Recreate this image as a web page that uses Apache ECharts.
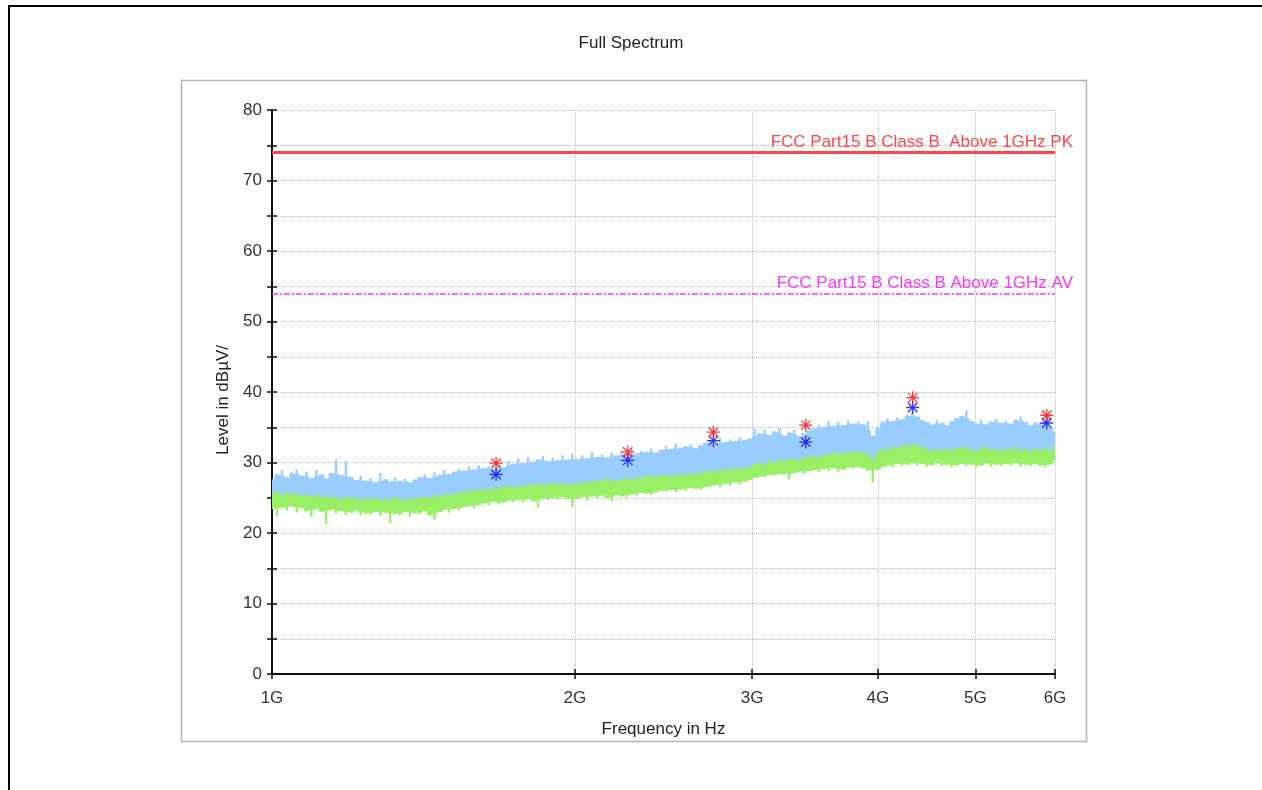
<!DOCTYPE html>
<html>
<head>
<meta charset="utf-8">
<title>Full Spectrum</title>
<script src="https://cdn.jsdelivr.net/npm/echarts@6/dist/echarts.min.js"></script>
<style>
  html, body { margin: 0; padding: 0; background: #fff; }
  #main { width: 1262px; height: 790px; }
</style>
</head>
<body>
<div id="main"></div>
<script>
// sweep 1 GHz .. 6 GHz, read at evenly spaced points of the log display
var sweepStartGHz = 1;
var sweepStopGHz = 6;

// peak trace (light blue): top and bottom of the trace at each reading point, dBuV/m
var peakHi = [
  27.6,28.4,28.9,27.9,28.6,29.0,28.1,28.7,27.8,28.9,
  28.3,27.7,28.5,30.4,28.2,30.2,27.9,27.5,28.1,27.4,
  27.8,27.2,28.5,27.6,27.3,27.9,27.4,27.7,27.2,27.6,
  27.9,28.3,27.8,28.6,28.2,28.9,28.4,28.7,29.1,28.8,
  29.4,29.0,29.6,29.2,29.5,29.1,29.7,29.3,30.2,29.8,
  30.6,29.9,30.8,30.1,30.4,30.9,30.2,30.7,30.3,31.0,
  30.4,31.2,30.5,31.0,30.6,31.5,30.8,31.1,30.7,31.4,
  31.0,31.6,31.2,31.9,31.3,31.7,31.5,32.0,31.4,31.8,
  32.4,31.9,32.7,32.1,32.3,32.6,32.0,32.5,32.8,33.2,
  32.6,33.5,32.9,33.3,33.0,33.6,33.2,33.4,34.8,34.1,
  34.6,33.9,34.4,34.9,33.8,34.3,34.6,33.7,34.2,34.5,
  34.8,35.4,35.0,35.9,35.2,35.7,35.3,36.0,35.5,35.8,
  35.4,35.9,33.8,35.1,35.8,36.2,35.9,36.4,36.1,36.8,
  37.1,36.5,36.0,35.7,35.4,36.0,35.6,35.3,35.9,36.3,
  36.6,37.4,35.9,35.5,36.1,35.4,35.8,36.2,35.6,35.9,
  35.5,36.1,36.5,35.7,35.3,35.8,35.6,35.9,35.0,34.3
];
var peakLo = [
  24.8,25.0,24.7,25.1,24.9,24.6,25.0,24.8,24.5,24.9,
  24.6,24.4,24.7,24.5,24.3,24.6,24.2,24.4,24.1,24.3,
  24.0,24.2,23.9,24.1,23.8,24.0,23.9,24.1,23.8,24.0,
  24.1,24.2,24.0,24.3,24.4,24.2,24.5,24.6,24.4,24.7,
  24.8,24.9,25.1,25.0,25.2,25.4,25.3,25.5,25.6,25.5,
  25.7,25.8,25.6,25.9,26.0,25.8,26.1,26.0,25.9,26.2,
  26.0,26.1,26.3,26.2,26.4,26.3,26.5,26.4,26.6,26.5,
  26.7,26.6,26.8,26.9,26.7,27.0,26.9,27.1,27.0,27.2,
  27.1,27.3,27.2,27.4,27.3,27.5,27.6,27.4,27.7,27.8,
  27.9,28.0,27.8,28.1,28.2,28.3,28.4,28.6,28.8,29.0,
  29.1,29.0,29.3,29.2,29.4,29.5,29.3,29.6,29.7,29.8,
  30.0,29.9,30.1,30.2,30.0,30.3,30.1,30.4,30.2,30.3,
  30.2,30.0,29.5,29.8,30.4,30.6,30.5,30.8,30.7,30.9,
  31.0,30.8,30.9,30.7,30.6,30.5,30.7,30.6,30.4,30.6,
  30.5,30.7,30.6,30.4,30.6,30.5,30.7,30.4,30.6,30.5,
  30.7,30.6,30.4,30.5,30.6,30.3,30.5,30.4,30.6,30.2
];

// average trace (green)
var avgHi = [
  25.6,25.9,25.4,26.0,25.5,25.8,25.3,25.7,25.2,25.6,
  25.1,25.4,25.0,25.5,24.8,25.3,24.9,25.2,24.7,25.1,
  24.8,25.2,24.6,25.0,24.7,25.3,24.8,24.6,25.1,24.9,
  25.0,25.3,24.9,25.5,25.2,25.7,25.4,25.8,25.6,26.0,
  25.9,26.2,26.0,26.4,26.1,26.5,26.3,26.6,26.8,26.5,
  26.9,26.6,27.0,26.7,26.9,27.1,26.8,27.2,26.9,27.1,
  26.8,27.2,27.0,27.4,27.1,27.6,27.3,27.5,27.8,27.4,
  27.7,27.5,27.9,27.6,28.1,27.8,28.0,28.3,27.9,28.2,
  28.4,28.0,28.6,28.2,28.5,28.3,28.7,28.4,28.8,29.0,
  28.6,29.1,28.9,29.3,29.0,29.4,29.2,29.3,29.8,30.1,
  29.7,30.4,30.0,30.6,30.2,30.8,30.5,30.3,30.7,30.9,
  31.0,30.7,31.3,31.1,31.5,31.2,31.6,31.3,31.7,31.4,
  31.6,31.2,30.4,31.7,32.1,31.8,32.4,32.0,32.6,32.3,
  32.5,32.8,32.1,31.9,31.6,32.1,31.8,32.2,31.7,32.0,
  32.3,31.9,32.2,31.5,32.0,32.4,31.8,32.2,31.6,32.1,
  31.9,32.3,31.7,32.0,31.6,32.1,31.8,32.2,31.7,32.4
];
var avgLo = [
  23.4,22.4,23.6,23.2,23.8,22.9,23.5,23.1,22.3,23.4,
  23.0,21.2,23.3,22.8,23.1,22.6,22.9,23.2,22.5,22.8,
  22.6,23.0,22.4,22.9,21.4,22.7,22.5,23.0,22.3,22.8,
  22.7,23.1,22.5,21.9,23.0,23.3,22.9,23.4,23.2,23.7,
  23.8,23.5,24.0,24.2,23.9,24.4,24.1,24.3,24.6,24.4,
  24.7,24.3,24.8,24.5,23.6,24.9,24.6,25.0,24.7,25.1,
  24.8,23.7,24.9,25.1,24.6,25.2,24.9,25.3,25.0,24.5,
  25.4,25.2,25.0,25.5,25.3,25.7,25.6,25.4,25.8,26.0,
  25.9,26.1,25.8,26.2,26.0,26.4,26.3,26.1,26.5,26.6,
  26.8,26.5,27.0,26.7,27.2,26.9,27.3,27.5,27.8,28.0,
  27.9,28.2,28.1,28.4,28.3,27.6,28.5,28.7,28.4,28.8,
  28.9,28.6,29.1,28.8,29.2,28.7,29.0,29.3,29.1,29.4,
  29.2,28.9,27.2,29.0,29.4,29.6,29.3,29.8,29.5,29.7,
  29.9,29.6,29.8,29.4,29.6,29.9,29.5,29.7,29.3,29.6,
  29.8,29.5,29.7,29.3,29.6,29.9,29.4,29.7,29.5,29.8,
  29.6,29.9,29.4,29.7,29.5,29.8,29.6,29.3,29.7,30.2
];

// final measurement points
var markFreqGHz = [1.670, 2.257, 2.746, 3.392, 4.332, 5.888];
var markPeak = [29.9, 31.5, 34.3, 35.3, 39.2, 36.7];
var markAvg = [28.3, 30.3, 33.1, 32.9, 37.8, 35.6];

// limits
var limitPK = 74;
var limitAV = 54;
var limitPKName = 'FCC Part15 B Class B  Above 1GHz PK';
var limitAVName = 'FCC Part15 B Class B Above 1GHz AV';

var freqTicksGHz = [1, 2, 3, 4, 5, 6];

var FONT = '"Liberation Sans", Arial, sans-serif';
var logMin = Math.log10(sweepStartGHz);
var logMax = Math.log10(sweepStopGHz);

function xAt(i, n) { return logMin + (logMax - logMin) * i / (n - 1); }
// [x, low, high] per reading point
function bandData(hi, lo) {
  return hi.map(function (v, i) { return [xAt(i, hi.length), lo[i], v]; });
}
function markData(vals) {
  return vals.map(function (v, i) { return [Math.log10(markFreqGHz[i]), v]; });
}

// each reading point: a full-width column up to the neighbours' mean level,
// plus a thin spike up to its own high and down to its own low
function bandSeries(name, hi, lo, color, z) {
  var n = hi.length;
  var stepX = (logMax - logMin) / (n - 1);
  return {
    name: name,
    type: 'custom',
    silent: true,
    z: z,
    data: bandData(hi, lo),
    encode: { x: 0, y: [1, 2] },
    renderItem: function (params, api) {
      var i = params.dataIndex;
      var x = api.value(0);
      var a = Math.max(0, i - 1), b = Math.min(n - 1, i + 1);
      var shoulderHi = Math.min(hi[i], (hi[a] + hi[b]) / 2);
      var shoulderLo = Math.max(lo[i], (lo[a] + lo[b]) / 2);
      var pHi = api.coord([x, hi[i]]);
      var pLo = api.coord([x, lo[i]]);
      var sHi = api.coord([x, shoulderHi]);
      var sLo = api.coord([x, shoulderLo]);
      var w = api.size([stepX, 0])[0];
      var cs = params.coordSys;
      var x0 = Math.max(cs.x, pHi[0] - w / 2);
      var x1 = Math.min(cs.x + cs.width, pHi[0] + w / 2 + 0.6);
      var sw = 2.4;
      var sx = Math.min(Math.max(pHi[0] - sw / 2, cs.x), cs.x + cs.width - sw);
      return {
        type: 'group',
        children: [
          { type: 'rect', shape: { x: x0, y: sHi[1], width: x1 - x0, height: sLo[1] - sHi[1] },
            style: { fill: color } },
          { type: 'rect', shape: { x: sx, y: pHi[1], width: sw, height: pLo[1] - pHi[1] },
            style: { fill: color } }
        ]
      };
    }
  };
}

// asterisk made of four thin bars
var asterisk = 'path://M9 0h2v20h-2z M0 9h20v2h-20z M2 3.4L3.4 2L18 16.6L16.6 18z M16.6 2L18 3.4L3.4 18L2 16.6z';

var tickPos = freqTicksGHz.map(function (f) { return Math.log10(f); });
var xFmt = function (v) { return Math.round(Math.pow(10, v)) + 'G'; };

var chart = echarts.init(document.getElementById('main'));
chart.setOption({
  animation: false,
  backgroundColor: '#fff',
  title: {
    text: 'Full Spectrum',
    left: 'center',
    top: 30,
    textStyle: { fontFamily: FONT, fontSize: 17, fontWeight: 'normal', color: '#222' }
  },
  graphic: [
    { type: 'polyline', silent: true, shape: { points: [[9, 800], [9, 6], [1270, 6]] },
      style: { stroke: '#000', lineWidth: 2, fill: null } },
    { type: 'rect', silent: true, z: -5, shape: { x: 181.5, y: 80.5, width: 905, height: 661 },
      style: { stroke: '#b4b4b4', lineWidth: 1.5, fill: null } }
  ],
  grid: { left: 272, right: 207, top: 110, bottom: 116 },
  xAxis: [{
    type: 'value',
    min: logMin,
    max: logMax,
    position: 'bottom',
    name: 'Frequency in Hz',
    nameLocation: 'middle',
    nameGap: 47,
    nameTextStyle: { fontFamily: FONT, fontSize: 17, color: '#222' },
    axisLine: { lineStyle: { color: '#111', width: 2 } },
    axisTick: { customValues: tickPos, length: 5, lineStyle: { color: '#111', width: 1.5 } },
    axisLabel: { customValues: tickPos, formatter: xFmt, margin: 16,
      fontFamily: FONT, fontSize: 17, color: '#333' },
    splitLine: { show: true, lineStyle: { color: '#bdbdbd', type: 'dotted', width: 1 } }
  }, {
    type: 'value',
    min: logMin,
    max: logMax,
    position: 'bottom',
    axisLine: { show: false },
    axisTick: { customValues: tickPos, inside: true, length: 5, lineStyle: { color: '#111', width: 1.5 } },
    axisLabel: { show: false },
    splitLine: { show: false }
  }],
  yAxis: [{
    type: 'value',
    min: 0,
    max: 80,
    interval: 5,
    position: 'left',
    name: 'Level in dBµV/',
    nameLocation: 'middle',
    nameGap: 40,
    nameTextStyle: { fontFamily: FONT, fontSize: 17, color: '#222', padding: [0, 16, 0, 0] },
    axisLine: { show: true, lineStyle: { color: '#111', width: 2 } },
    axisTick: { show: true, length: 5, lineStyle: { color: '#111', width: 1.5 } },
    axisLabel: {
      margin: 10, fontFamily: FONT, fontSize: 17, color: '#333',
      formatter: function (v) { return v % 10 === 0 ? String(v) : ''; }
    },
    splitLine: { show: true, lineStyle: { color: '#bdbdbd', type: 'dotted', width: 1 } }
  }, {
    type: 'value',
    min: 0,
    max: 80,
    interval: 5,
    position: 'left',
    axisLine: { show: false },
    axisTick: { show: true, inside: true, length: 5, lineStyle: { color: '#111', width: 1.5 } },
    axisLabel: { show: false },
    splitLine: { show: false }
  }],
  series: [
    bandSeries('PK trace', peakHi, peakLo, '#99ccff', 3),
    bandSeries('AV trace', avgHi, avgLo, '#99f066', 4),
    {
      name: 'AV final',
      type: 'scatter',
      data: markData(markAvg),
      symbol: asterisk,
      symbolSize: 13,
      itemStyle: { color: '#0000ff' },
      z: 7,
      markLine: {
        silent: true,
        symbol: 'none',
        data: [
          { yAxis: limitPK, lineStyle: { color: '#ff4646', width: 3, type: 'solid' },
            label: { formatter: limitPKName, color: '#ff4646' } },
          { yAxis: limitAV, lineStyle: { color: '#ff33ff', width: 1.5, type: [6, 2, 2, 2] },
            label: { formatter: limitAVName, color: '#ff33ff' } }
        ],
        label: { position: 'insideEndTop', distance: [-18, 1], fontFamily: FONT, fontSize: 17 }
      }
    }, {
      name: 'PK final',
      type: 'scatter',
      data: markData(markPeak),
      symbol: asterisk,
      symbolSize: 13,
      itemStyle: { color: '#ff0000' },
      z: 8
    }
  ]
});
</script>
</body>
</html>
